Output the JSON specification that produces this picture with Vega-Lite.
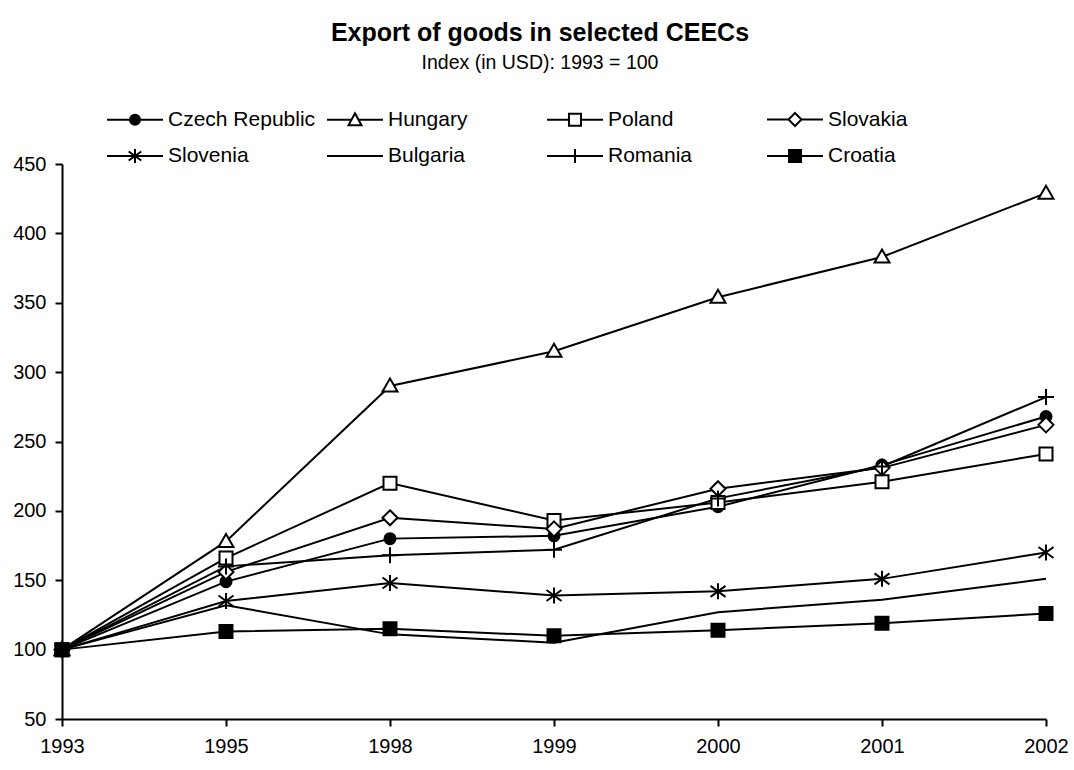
{
  "$schema": "https://vega.github.io/schema/vega-lite/v6.json",
  "width": 984,
  "height": 555,
  "autosize": {"type": "none"},
  "padding": {"left": 62, "top": 164, "right": 28, "bottom": 51},
  "background": "white",
  "config": {
    "font": "Liberation Sans",
    "view": {"stroke": null},
    "axis": {
      "domainColor": "black",
      "domainWidth": 2,
      "tickColor": "black",
      "tickWidth": 2,
      "tickSize": 7,
      "labelFontSize": 20,
      "labelColor": "black",
      "labelFont": "Liberation Sans",
      "grid": false,
      "title": null
    },
    "axisY": {"labelPadding": 9},
    "axisX": {"labelPadding": 10}
  },
  "title": {
    "text": "Export of goods in selected CEECs",
    "subtitle": "Index (in USD): 1993 = 100",
    "font": "Liberation Sans",
    "subtitleFont": "Liberation Sans",
    "fontSize": 25,
    "fontWeight": "bold",
    "subtitleFontSize": 19.5,
    "color": "black",
    "subtitleColor": "black",
    "anchor": "middle",
    "frame": "group",
    "offset": 36,
    "subtitlePadding": 8,
    "dx": -14
  },
  "data": {
    "values": [
      {"country": "Czech Republic", "year": 1993, "value": 100},
      {"country": "Czech Republic", "year": 1995, "value": 149},
      {"country": "Czech Republic", "year": 1998, "value": 180},
      {"country": "Czech Republic", "year": 1999, "value": 182},
      {"country": "Czech Republic", "year": 2000, "value": 203},
      {"country": "Czech Republic", "year": 2001, "value": 233},
      {"country": "Czech Republic", "year": 2002, "value": 268},
      {"country": "Hungary", "year": 1993, "value": 100},
      {"country": "Hungary", "year": 1995, "value": 178},
      {"country": "Hungary", "year": 1998, "value": 290},
      {"country": "Hungary", "year": 1999, "value": 315},
      {"country": "Hungary", "year": 2000, "value": 354},
      {"country": "Hungary", "year": 2001, "value": 383},
      {"country": "Hungary", "year": 2002, "value": 429},
      {"country": "Poland", "year": 1993, "value": 100},
      {"country": "Poland", "year": 1995, "value": 166},
      {"country": "Poland", "year": 1998, "value": 220},
      {"country": "Poland", "year": 1999, "value": 193},
      {"country": "Poland", "year": 2000, "value": 206},
      {"country": "Poland", "year": 2001, "value": 221},
      {"country": "Poland", "year": 2002, "value": 241},
      {"country": "Slovakia", "year": 1993, "value": 100},
      {"country": "Slovakia", "year": 1995, "value": 156},
      {"country": "Slovakia", "year": 1998, "value": 195},
      {"country": "Slovakia", "year": 1999, "value": 187},
      {"country": "Slovakia", "year": 2000, "value": 216},
      {"country": "Slovakia", "year": 2001, "value": 231},
      {"country": "Slovakia", "year": 2002, "value": 262},
      {"country": "Slovenia", "year": 1993, "value": 100},
      {"country": "Slovenia", "year": 1995, "value": 135},
      {"country": "Slovenia", "year": 1998, "value": 148},
      {"country": "Slovenia", "year": 1999, "value": 139},
      {"country": "Slovenia", "year": 2000, "value": 142},
      {"country": "Slovenia", "year": 2001, "value": 151},
      {"country": "Slovenia", "year": 2002, "value": 170},
      {"country": "Bulgaria", "year": 1993, "value": 100},
      {"country": "Bulgaria", "year": 1995, "value": 132},
      {"country": "Bulgaria", "year": 1998, "value": 111},
      {"country": "Bulgaria", "year": 1999, "value": 105},
      {"country": "Bulgaria", "year": 2000, "value": 127},
      {"country": "Bulgaria", "year": 2001, "value": 136},
      {"country": "Bulgaria", "year": 2002, "value": 151},
      {"country": "Romania", "year": 1993, "value": 100},
      {"country": "Romania", "year": 1995, "value": 160},
      {"country": "Romania", "year": 1998, "value": 168},
      {"country": "Romania", "year": 1999, "value": 172},
      {"country": "Romania", "year": 2000, "value": 209},
      {"country": "Romania", "year": 2001, "value": 232},
      {"country": "Romania", "year": 2002, "value": 282},
      {"country": "Croatia", "year": 1993, "value": 100},
      {"country": "Croatia", "year": 1995, "value": 113},
      {"country": "Croatia", "year": 1998, "value": 115},
      {"country": "Croatia", "year": 1999, "value": 110},
      {"country": "Croatia", "year": 2000, "value": 114},
      {"country": "Croatia", "year": 2001, "value": 119},
      {"country": "Croatia", "year": 2002, "value": 126}
    ]
  },
  "encoding": {
    "x": {
      "field": "year",
      "type": "ordinal",
      "scale": {"type": "point", "padding": 0},
      "axis": {"title": null, "labelAngle": 0}
    },
    "y": {
      "field": "value",
      "type": "quantitative",
      "scale": {"domain": [50, 450], "nice": false, "zero": false},
      "axis": {"title": null, "values": [50, 100, 150, 200, 250, 300, 350, 400, 450]}
    }
  },
  "layer": [
    {
      "mark": {"type": "line", "color": "black", "strokeWidth": 2},
      "encoding": {"detail": {"field": "country", "type": "nominal"}}
    },
    {
      "mark": {"type": "point", "stroke": "black", "strokeWidth": 2, "opacity": 1, "size": 400},
      "encoding": {
        "shape": {
          "field": "country",
          "type": "nominal",
          "legend": null,
          "scale": {
            "domain": ["Czech Republic", "Hungary", "Poland", "Slovakia", "Slovenia", "Bulgaria", "Romania", "Croatia"],
            "range": [
              "M-0.55,0A0.55,0.55 0 1,1 0.55,0A0.55,0.55 0 1,1 -0.55,0Z",
              "M0,-0.75L0.75,0.55L-0.75,0.55Z",
              "M-0.65,-0.65H0.65V0.65H-0.65Z",
              "M0,-0.75L0.75,0L0,0.75L-0.75,0Z",
              "M0,-0.8V0.8M-0.75,-0.55L0.75,0.55M-0.75,0.55L0.75,-0.55",
              "M0,0",
              "M-0.8,0H0.8M0,-0.8V0.8",
              "M-0.65,-0.65H0.65V0.65H-0.65Z"
            ]
          }
        },
        "fill": {
          "field": "country",
          "type": "nominal",
          "legend": null,
          "scale": {
            "domain": ["Czech Republic", "Hungary", "Poland", "Slovakia", "Slovenia", "Bulgaria", "Romania", "Croatia"],
            "range": ["black", "white", "white", "white", "transparent", "transparent", "transparent", "black"]
          }
        }
      }
    },
    {
      "transform": [{"filter": "datum.value < 0"}],
      "mark": {"type": "point", "strokeWidth": 2, "opacity": 1},
      "encoding": {
        "shape": {
          "field": "country",
          "type": "nominal",
          "legend": {
            "orient": "none",
            "legendX": 62.5,
            "legendY": -55.5,
            "columns": 4,
            "direction": "horizontal",
            "title": null,
            "gridAlign": "all",
            "columnPadding": 7,
            "rowPadding": 14,
            "symbolSize": 324,
            "symbolStrokeWidth": 2,
            "symbolOpacity": 1,
            "symbolOffset": 0,
            "labelFontSize": 21,
            "labelFont": "Liberation Sans",
            "labelColor": "black",
            "labelOffset": 22.5,
            "labelLimit": 0,
            "padding": 0
          },
          "scale": {
            "domain": ["Czech Republic", "Hungary", "Poland", "Slovakia", "Slovenia", "Bulgaria", "Romania", "Croatia"],
            "range": [
              "M-3.11,0H3.11M-0.56,0A0.56,0.56 0 1,1 0.56,0A0.56,0.56 0 1,1 -0.56,0Z",
              "M-3.11,0H-0.39M0.39,0H3.11M0,-0.72L0.72,0.6L-0.72,0.6Z",
              "M-3.11,0H-0.67M0.67,0H3.11M-0.67,-0.67H0.67V0.67H-0.67Z",
              "M-3.11,0H-0.72M0.72,0H3.11M0,-0.72L0.72,0L0,0.72L-0.72,0Z",
              "M-3.11,0H3.11M0,-0.78V0.78M-0.7,-0.5L0.7,0.5M-0.7,0.5L0.7,-0.5",
              "M-3.11,0H3.11",
              "M-3.11,0H3.11M0,-0.78V0.78",
              "M-3.11,0H3.11M-0.67,-0.67H0.67V0.67H-0.67Z"
            ]
          }
        },
        "fill": {
          "field": "country",
          "type": "nominal",
          "legend": {
            "orient": "none",
            "legendX": 62.5,
            "legendY": -55.5,
            "columns": 4,
            "direction": "horizontal",
            "title": null,
            "gridAlign": "all",
            "columnPadding": 7,
            "rowPadding": 14,
            "symbolSize": 324,
            "symbolStrokeWidth": 2,
            "symbolOpacity": 1,
            "symbolOffset": 0,
            "labelFontSize": 21,
            "labelFont": "Liberation Sans",
            "labelColor": "black",
            "labelOffset": 22.5,
            "labelLimit": 0,
            "padding": 0
          },
          "scale": {
            "domain": ["Czech Republic", "Hungary", "Poland", "Slovakia", "Slovenia", "Bulgaria", "Romania", "Croatia"],
            "range": ["black", "white", "white", "white", "transparent", "transparent", "transparent", "black"]
          }
        },
        "stroke": {
          "field": "country",
          "type": "nominal",
          "legend": {
            "orient": "none",
            "legendX": 62.5,
            "legendY": -55.5,
            "columns": 4,
            "direction": "horizontal",
            "title": null,
            "gridAlign": "all",
            "columnPadding": 7,
            "rowPadding": 14,
            "symbolSize": 324,
            "symbolStrokeWidth": 2,
            "symbolOpacity": 1,
            "symbolOffset": 0,
            "labelFontSize": 21,
            "labelFont": "Liberation Sans",
            "labelColor": "black",
            "labelOffset": 22.5,
            "labelLimit": 0,
            "padding": 0
          },
          "scale": {
            "domain": ["Czech Republic", "Hungary", "Poland", "Slovakia", "Slovenia", "Bulgaria", "Romania", "Croatia"],
            "range": ["black", "black", "black", "black", "black", "black", "black", "black"]
          }
        }
      }
    }
  ],
  "resolve": {
    "scale": {"shape": "independent", "fill": "independent", "stroke": "independent"},
    "legend": {"shape": "independent", "fill": "independent", "stroke": "independent"}
  }
}
